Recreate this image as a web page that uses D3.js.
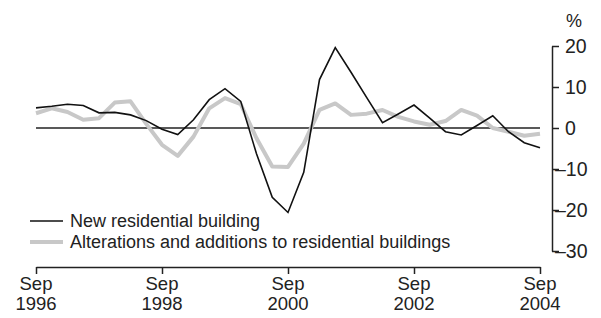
<!DOCTYPE html>
<html>
<head>
<meta charset="utf-8">
<script src="https://cdn.jsdelivr.net/npm/d3@7"></script>
<style>
  body { margin: 0; background: #fff; }
  text { font-family: "Liberation Sans", Arial, sans-serif; fill: #222; }
</style>
</head>
<body>
<div id="chart"></div>
<script>
// quarterly series, Sep 1996 .. Sep 2004
var quarters = [];
for (var yr = 1996; yr <= 2004; yr++) {
  ["Sep", "Dec", "Mar", "Jun"].forEach(function(m, k) {
    var y = (k == 0 || k == 1) ? yr : yr + 1;
    if (quarters.length < 33) quarters.push(m + " " + y);
  });
}
quarters = quarters.slice(0, 33);

var newResidential = [4.9, 5.3, 5.8, 5.5, 3.7, 3.8, 3.2, 1.8, -0.3, -1.6, 2.0, 6.9, 9.6, 6.5,
  -6.3, -16.9, -20.6, -10.8, 11.8, 19.6, 13.6, 7.4, 1.3, 3.4, 5.6, 2.4, -0.9, -1.7, 0.6, 3.0,
  -0.9, -3.6, -4.8];
var alterations = [3.6, 4.8, 3.9, 2.0, 2.4, 6.2, 6.5, 1.0, -4.1, -6.8, -2.1, 4.8, 7.3, 5.8,
  -2.5, -9.4, -9.5, -3.8, 4.4, 6.0, 3.2, 3.5, 4.4, 2.7, 1.6, 0.8, 1.7, 4.4, 3.0, 0.0,
  -0.9, -1.9, -1.4];
var yTicks = [20, 10, 0, -10, -20, -30];
var xTickIdx = [0, 8, 16, 24, 32];
var seriesNames = ["New residential building", "Alterations and additions to residential buildings"];

var width = 601, height = 318;

var svg = d3.select("#chart")
  .append("svg")
    .attr("width", width)
    .attr("height", height);

var x = d3.scaleLinear()
    .domain([0, quarters.length - 1])
    .range([36, 540]);

var y = d3.scaleLinear()
    .domain([-30, 20])
    .range([251, 46]);

// y axis on the right, ticks pointing right
var yAxis = svg.append("g")
    .attr("transform", "translate(552,0)")
    .call(d3.axisRight(y).tickValues(yTicks).tickSize(7).tickSizeOuter(0).tickFormat(""));
yAxis.select(".domain").attr("stroke", "#222").attr("stroke-width", 1.5);
yAxis.selectAll(".tick line").attr("stroke", "#222").attr("stroke-width", 1.5);

svg.append("g").selectAll("text")
  .data(yTicks)
  .enter()
  .append("text")
    .attr("x", function(d) { return d < 0 ? 555 : 565; })
    .attr("y", function(d) { return y(d) + 7; })
    .attr("font-size", 19.5)
    .text(function(d) { return d < 0 ? "\u2013" + Math.abs(d) : d; });

svg.append("text")
  .attr("x", 566)
  .attr("y", 27)
  .attr("font-size", 18)
  .text("%");

// x axis
var xAxis = svg.append("g")
    .attr("transform", "translate(0,267)")
    .call(d3.axisBottom(x).tickValues(xTickIdx).tickSize(7).tickSizeOuter(0).tickFormat(""));
xAxis.select(".domain").attr("stroke", "#222").attr("stroke-width", 1.5);
xAxis.selectAll(".tick line").attr("stroke", "#222").attr("stroke-width", 1.5);

var xLab = svg.append("g").selectAll("text")
  .data(xTickIdx)
  .enter()
  .append("text")
    .attr("text-anchor", "middle")
    .attr("font-size", 18.5);
xLab.append("tspan")
    .attr("x", function(d) { return x(d); })
    .attr("y", 290)
    .text(function(d) { return quarters[d].split(" ")[0]; });
xLab.append("tspan")
    .attr("x", function(d) { return x(d); })
    .attr("y", 310)
    .text(function(d) { return quarters[d].split(" ")[1]; });

// zero line
svg.append("line")
  .attr("x1", x(0)).attr("x2", x(quarters.length - 1))
  .attr("y1", y(0)).attr("y2", y(0))
  .attr("stroke", "#222")
  .attr("stroke-width", 1.5);

var line = d3.line()
  .x(function(d, i) { return x(i); })
  .y(function(d) { return y(d); });

svg.append("path")
  .datum(alterations)
  .attr("fill", "none")
  .attr("stroke", "#c8c8c8")
  .attr("stroke-width", 4)
  .attr("stroke-linejoin", "round")
  .attr("d", line);

svg.append("path")
  .datum(newResidential)
  .attr("fill", "none")
  .attr("stroke", "#111")
  .attr("stroke-width", 1.6)
  .attr("d", line);

// legend
var legend = svg.append("g");
var legY = [221, 242];
var legStroke = ["#111", "#c8c8c8"];
var legW = [1.6, 4];
seriesNames.forEach(function(name, i) {
  legend.append("line")
    .attr("x1", 30).attr("x2", 63)
    .attr("y1", legY[i]).attr("y2", legY[i])
    .attr("stroke", legStroke[i])
    .attr("stroke-width", legW[i]);
  legend.append("text")
    .attr("x", 70)
    .attr("y", legY[i] + 6)
    .attr("font-size", 18)
    .text(name);
});
</script>
</body>
</html>
